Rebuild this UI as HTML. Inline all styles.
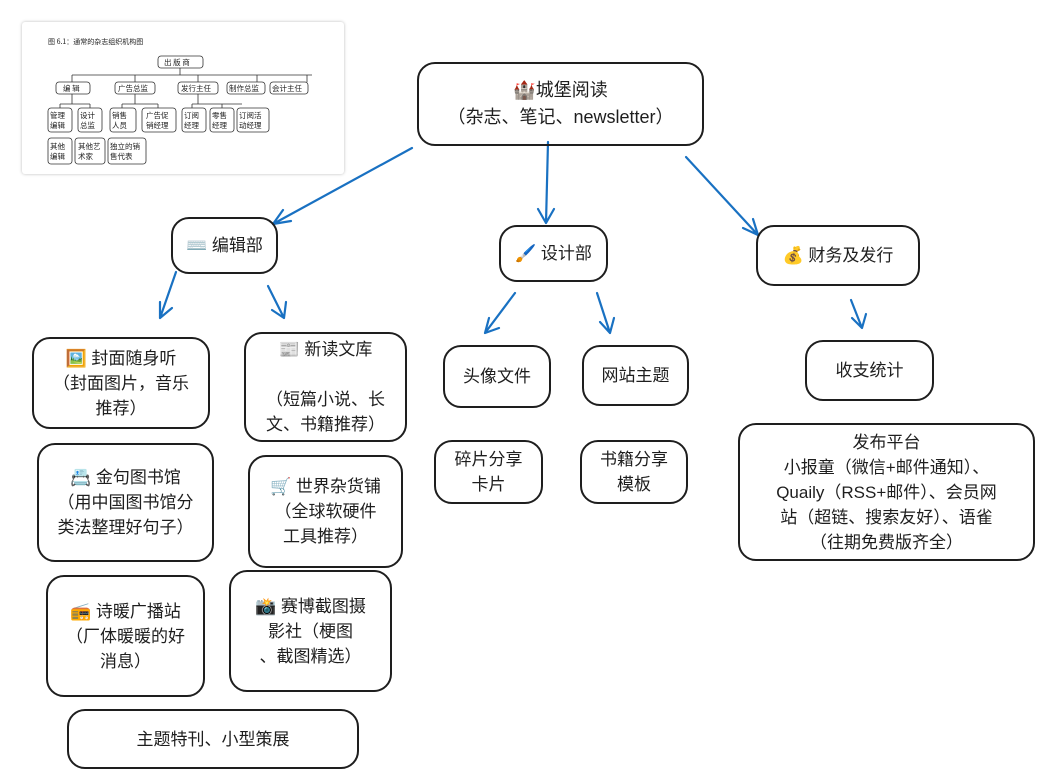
<!DOCTYPE html>
<html><head><meta charset="utf-8"><style>
body{margin:0;width:1043px;height:778px;background:#fff;position:relative;overflow:hidden;font-family:"Liberation Sans","Noto Sans CJK SC",sans-serif;color:#1e1e1e}
.b{position:absolute;border:2px solid #1e1e1e;border-radius:18px;display:flex;align-items:center;justify-content:center;text-align:center;font-size:17px;line-height:25px;box-sizing:border-box;padding:0;white-space:nowrap}
.img{position:absolute;left:22px;top:22px;width:322px;height:152px;background:#fff;box-shadow:0 0 3px #bbb;border-radius:3px}
svg{position:absolute;left:0;top:0}
</style></head><body>
<div class="img">
<svg width="322" height="152" viewBox="0 0 322 152" font-size="7.5" font-family="Noto Sans CJK SC,sans-serif" fill="none" stroke="#333" stroke-width="0.8">
<text x="26" y="22" fill="#222" stroke="none" font-size="7">图 6.1：通常的杂志组织机构图</text>
<rect x="136" y="34" width="45" height="12" rx="3"/><text x="142" y="43" fill="#222" stroke="none">出 版 商</text>
<path d="M158 46v7M50 53h240M50 53v7M113 53v7M176 53v7M235 53v7M285 53v7"/>
<rect x="34" y="60" width="34" height="12" rx="3"/><text x="41" y="69" fill="#222" stroke="none">编 辑</text>
<rect x="93" y="60" width="40" height="12" rx="3"/><text x="96" y="69" fill="#222" stroke="none">广告总监</text>
<rect x="156" y="60" width="40" height="12" rx="3"/><text x="159" y="69" fill="#222" stroke="none">发行主任</text>
<rect x="205" y="60" width="38" height="12" rx="3"/><text x="207" y="69" fill="#222" stroke="none">制作总监</text>
<rect x="248" y="60" width="38" height="12" rx="3"/><text x="250" y="69" fill="#222" stroke="none">会计主任</text>
<path d="M50 72v10M38 82h30M38 82v4M68 82v4M113 72v10M100 82h36M100 82v4M136 82v4M176 72v10M170 82h50M170 82v4M200 82v4"/>
<rect x="26" y="86" width="24" height="24" rx="3"/><text x="28" y="96" fill="#222" stroke="none">管理</text><text x="28" y="106" fill="#222" stroke="none">编辑</text>
<rect x="56" y="86" width="24" height="24" rx="3"/><text x="58" y="96" fill="#222" stroke="none">设计</text><text x="58" y="106" fill="#222" stroke="none">总监</text>
<rect x="88" y="86" width="26" height="24" rx="3"/><text x="90" y="96" fill="#222" stroke="none">销售</text><text x="90" y="106" fill="#222" stroke="none">人员</text>
<rect x="120" y="86" width="34" height="24" rx="3"/><text x="124" y="96" fill="#222" stroke="none">广告促</text><text x="124" y="106" fill="#222" stroke="none">销经理</text>
<rect x="160" y="86" width="24" height="24" rx="3"/><text x="162" y="96" fill="#222" stroke="none">订阅</text><text x="162" y="106" fill="#222" stroke="none">经理</text>
<rect x="188" y="86" width="24" height="24" rx="3"/><text x="190" y="96" fill="#222" stroke="none">零售</text><text x="190" y="106" fill="#222" stroke="none">经理</text>
<rect x="215" y="86" width="32" height="24" rx="3"/><text x="217" y="96" fill="#222" stroke="none">订阅活</text><text x="217" y="106" fill="#222" stroke="none">动经理</text>
<rect x="26" y="116" width="24" height="26" rx="3"/><text x="28" y="127" fill="#222" stroke="none">其他</text><text x="28" y="137" fill="#222" stroke="none">编辑</text>
<rect x="53" y="116" width="30" height="26" rx="3"/><text x="56" y="127" fill="#222" stroke="none">其他艺</text><text x="56" y="137" fill="#222" stroke="none">术家</text>
<rect x="86" y="116" width="38" height="26" rx="3"/><text x="88" y="127" fill="#222" stroke="none">独立的销</text><text x="88" y="137" fill="#222" stroke="none">售代表</text>
</svg></div>

<svg width="1043" height="778" fill="none" stroke="#1971c2" stroke-width="2.2" stroke-linecap="round">
<path d="M412 148L273 224M273 224l18-3M273 224l10-14"/>
<path d="M548 142L546 223M546 223l-8-14M546 223l8-14"/>
<path d="M686 157L758 235M758 235l-5-16M758 235l-15-7"/>
<path d="M176 272L160 318M160 318l0-16M160 318l12-10"/>
<path d="M268 286L284 318M284 318l-12-8M284 318l2-16"/>
<path d="M515 293L485 333M485 333l4-15M485 333l14-5"/>
<path d="M597 293L610 333M610 333l-10-11M610 333l4-15"/>
<path d="M851 300L862 328M862 328l-10-10M862 328l4-14"/>
</svg>

<div class="b" style="left:417px;top:62px;width:287px;height:84px;font-size:18px;line-height:27px">🏰城堡阅读<br>（杂志、笔记、newsletter）</div>
<div class="b" style="left:171px;top:217px;width:107px;height:57px">⌨️ 编辑部</div>
<div class="b" style="left:499px;top:225px;width:109px;height:57px">🖌️ 设计部</div>
<div class="b" style="left:756px;top:225px;width:164px;height:61px">💰 财务及发行</div>
<div class="b" style="left:32px;top:337px;width:178px;height:92px">🖼️ 封面随身听<br>（封面图片，音乐<br>推荐）</div>
<div class="b" style="left:244px;top:332px;width:163px;height:110px">📰 新读文库<br><br>（短篇小说、长<br>文、书籍推荐）</div>
<div class="b" style="left:37px;top:443px;width:177px;height:119px">📇 金句图书馆<br>（用中国图书馆分<br>类法整理好句子）</div>
<div class="b" style="left:248px;top:455px;width:155px;height:113px">🛒 世界杂货铺<br>（全球软硬件<br>工具推荐）</div>
<div class="b" style="left:46px;top:575px;width:159px;height:122px">📻 诗暖广播站<br>（厂体暖暖的好<br>消息）</div>
<div class="b" style="left:229px;top:570px;width:163px;height:122px">📸 赛博截图摄<br>影社（梗图<br>、截图精选）</div>
<div class="b" style="left:67px;top:709px;width:292px;height:60px">主题特刊、小型策展</div>
<div class="b" style="left:443px;top:345px;width:108px;height:63px">头像文件</div>
<div class="b" style="left:582px;top:345px;width:107px;height:61px">网站主题</div>
<div class="b" style="left:434px;top:440px;width:109px;height:64px">碎片分享<br>卡片</div>
<div class="b" style="left:580px;top:440px;width:108px;height:64px">书籍分享<br>模板</div>
<div class="b" style="left:805px;top:340px;width:129px;height:61px">收支统计</div>
<div class="b" style="left:738px;top:423px;width:297px;height:138px">发布平台<br>小报童（微信+邮件通知）、<br>Quaily（RSS+邮件）、会员网<br>站（超链、搜索友好）、语雀<br>（往期免费版齐全）</div>
</body></html>
